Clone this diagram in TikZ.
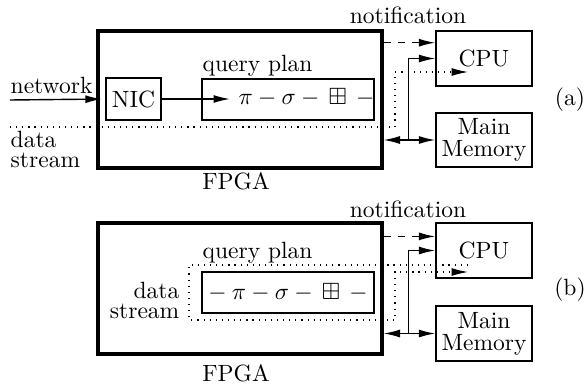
\documentclass[tikz,border=0pt]{standalone}
\usepackage{amssymb}
\usetikzlibrary{arrows.meta,calc}
\newlength{\upx}\setlength{\upx}{0.4252pt}
\begin{document}
\begin{tikzpicture}[x=0.4252pt, y=-0.4252pt,
  line width=0.6pt,
  fpga/.style={draw, line width=1.3pt, minimum width=284\upx, inner sep=0pt},
  box/.style={draw, line width=0.6pt, inner sep=0pt},
  hostbox/.style={box, minimum width=96\upx, minimum height=55\upx, align=center},
  lbl/.style={inner sep=0pt},
  dots/.style={line width=0.5pt, dash pattern=on 0.5pt off 2.1pt},
  tip/.style={-{Latex[length=7pt,width=3.4pt]}},
  bitip/.style={{Latex[length=7pt,width=3.4pt]}-{Latex[length=7pt,width=3.4pt]}}]
\useasboundingbox (0,0) rectangle (588,385);

% ---------- (a): NIC in the data path ----------
\node[fpga, minimum height=137\upx] (fpgaA) at (240,99.5) {};
\node[lbl, anchor=base] (fpgaLblA) at (236,189) {FPGA};
\node[box, minimum width=55\upx, minimum height=42\upx] (nicA) at (133.5,99) {NIC};
\node[box, minimum width=172\upx, minimum height=41\upx] (qpA) at (288,99.5) {};
\node[lbl, anchor=base west] (qpLblA) at (202,71) {query plan};
\node[anchor=base west, inner xsep=3.4pt, inner ysep=0pt] (opsA) at (230,104)
  {$\pi-\sigma-\,\boxplus\,-{}$};
\node[lbl, anchor=base west] (netA) at (10,93) {network};
\node[lbl, anchor=north west, align=left] (dsA) at (10,130.7) {data\\[-3.5pt]stream};
\node[lbl, anchor=base] (notiA) at (408,24) {notification};
\node[hostbox] (cpuA) at (484,58.5) {CPU};
\node[hostbox, minimum height=54\upx] (memA) at (484,140) {Main\\[-2.6pt]Memory};
\node[lbl] (tagA) at (570,100) {(a)};

\coordinate (netIn) at (10,100);
\draw[tip, shorten >=1.5pt] (netIn) -- (nicA.west);
\draw[tip] (nicA.east) -- (nicA.east -| opsA.west);

\coordinate (ntA) at ($(cpuA.north west)!0.22!(cpuA.south west)$);
\draw[tip, dashed] (fpgaA.east |- ntA) -- (ntA);
\draw[bitip] (fpgaA.east |- memA.west) -- (memA.west);
\coordinate (brA) at ($(fpgaA.east |- memA.west)!0.48!(memA.west)$);
\draw[tip] (brA) |- (cpuA.west);

\coordinate (dsStartA) at (10,127);
\coordinate (dsEndA) at (468,72);
\draw[tip, dots] (dsStartA) -- (395,127) -- (395,72) -- (dsEndA);

% ---------- (b): data stream from host memory ----------
\node[fpga, minimum height=131\upx] (fpgaB) at (240,288.5) {};
\node[lbl, anchor=base] (fpgaLblB) at (236,381) {FPGA};
\node[box, minimum width=172\upx, minimum height=41\upx] (qpB) at (288,292.5)
  {${}-\pi-\sigma-\,\boxplus\,-{}$};
\node[lbl, anchor=base west] (qpLblB) at (202,258) {query plan};
\node[lbl, anchor=north east, align=right] (dsB) at (180,281.7) {data\\[-3.5pt]stream};
\node[lbl, anchor=base] (notiB) at (408,217) {notification};
\node[hostbox] (cpuB) at (484,250.5) {CPU};
\node[hostbox] (memB) at (484,333.5) {Main\\[-2.6pt]Memory};
\node[lbl] (tagB) at (570,290) {(b)};

\coordinate (ntB) at ($(cpuB.north west)!0.25!(cpuB.south west)$);
\draw[tip, dashed] (fpgaB.east |- ntB) -- (ntB);
\draw[bitip] (fpgaB.east |- memB.west) -- (memB.west);
\coordinate (brB) at ($(fpgaB.east |- memB.west)!0.48!(memB.west)$);
\draw[tip] (brB) |- (cpuB.west);

\coordinate (dsStartB) at (468,265);
\coordinate (dsEndB) at (468,272);
\draw[tip, dots] (dsStartB) -- (189,265) -- (189,320) -- (395,320) -- (395,272) -- (dsEndB);
\end{tikzpicture}
\end{document}
